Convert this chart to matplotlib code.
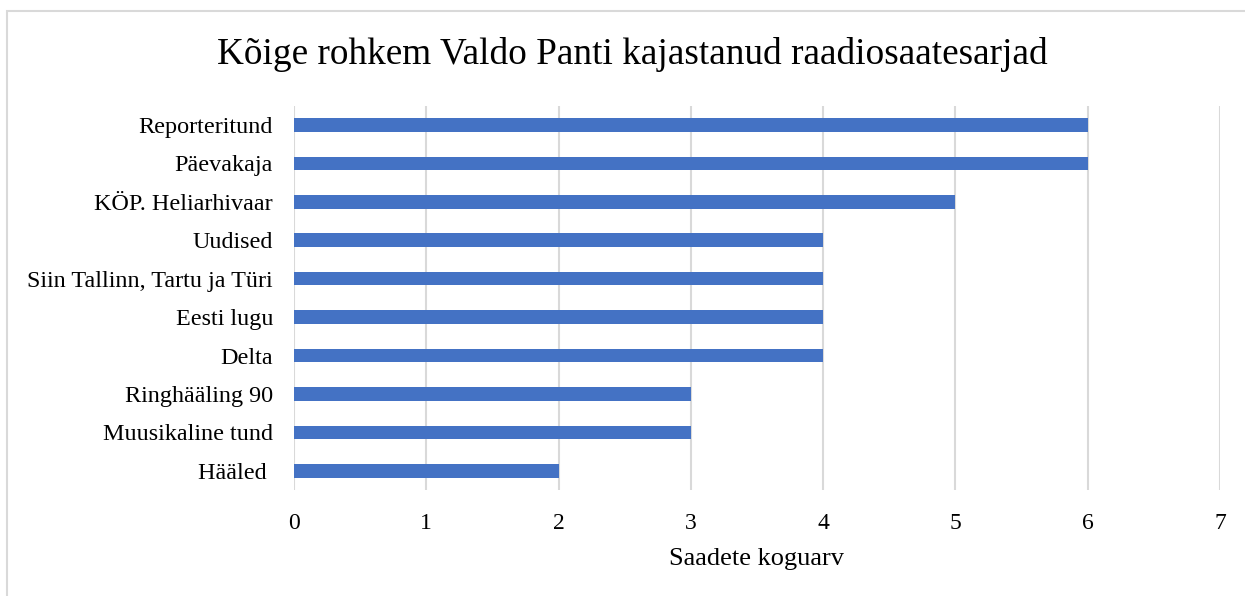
import matplotlib.pyplot as plt
from matplotlib.patches import Rectangle

categories = ['Reporteritund', 'Päevakaja', 'KÖP. Heliarhivaar', 'Uudised',
              'Siin Tallinn, Tartu ja Türi', 'Eesti lugu', 'Delta',
              'Ringhääling 90', 'Muusikaline tund', 'Hääled ']
counts = [6, 6, 5, 4, 4, 4, 4, 3, 3, 2]
x_ticks = [0, 1, 2, 3, 4, 5, 6, 7]

plt.rcParams['font.family'] = ['Liberation Serif', 'DejaVu Serif']

fig = plt.figure(figsize=(12.45, 5.96), dpi=100)
ax = fig.add_axes([0.2361, 0.1779, 0.7438, 0.6446])

# Raam ümber kogu graafiku
fig.patches.append(Rectangle((7 / 1245, -0.1), 1.2, 1 - 10.5 / 596 + 0.1,
                             transform=fig.transFigure, fill=False,
                             edgecolor='#D9D9D9', linewidth=1.5))

y_pos = list(range(len(categories)))
ax.barh(y_pos, counts, height=0.355, color='#4472C4', zorder=3)
ax.set_yticks(y_pos)
ax.set_yticklabels(categories, fontsize=17.4)
ax.set_ylim(len(categories) - 0.5, -0.5)

ax.set_xlim(0, 7)
ax.set_xticks(x_ticks)
ax.set_xticklabels([str(t) for t in x_ticks], fontsize=17)
ax.xaxis.grid(True, color='#D9D9D9', linewidth=1.5, zorder=0)
ax.tick_params(axis='both', length=0)
ax.tick_params(axis='y', pad=15)
ax.tick_params(axis='x', pad=16.5)
for s in ax.spines.values():
    s.set_visible(False)

ax.set_xlabel('Saadete koguarv', fontsize=19, labelpad=10)
fig.text(632 / 1245, 1 - 55 / 596, 'Kõige rohkem Valdo Panti kajastanud raadiosaatesarjad',
         fontsize=26.8, ha='center', va='center')

fig.savefig('out.png', dpi=100, facecolor='white')
